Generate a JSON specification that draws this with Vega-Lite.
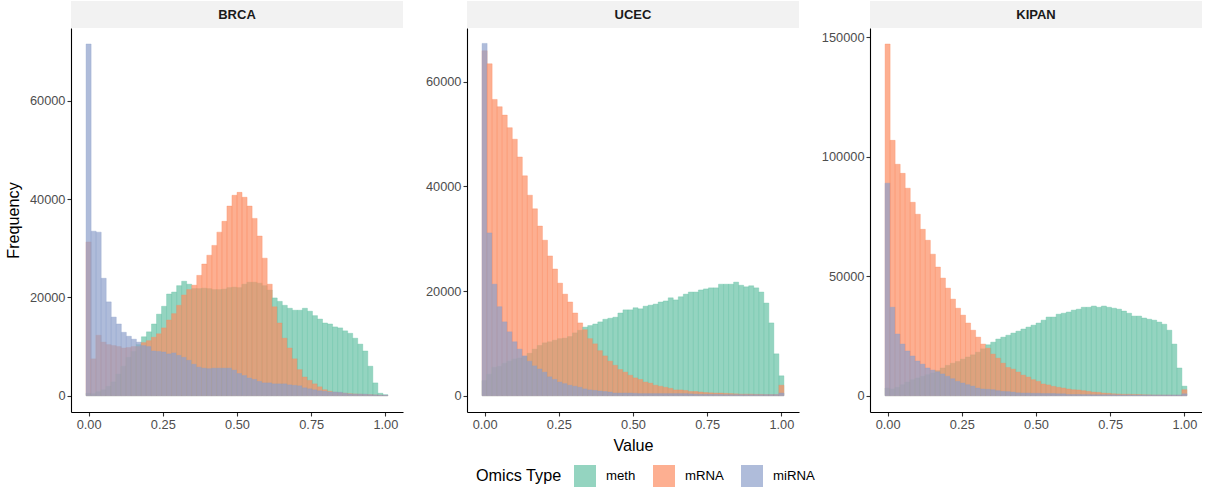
{
  "$schema": "https://vega.github.io/schema/vega-lite/v6.json",
  "background": "white",
  "padding": {"left": 5, "top": 1, "right": 0, "bottom": 0},
  "spacing": 22,
  "datasets": {
    "hist": [
      {"p":"BRCA","x":0,"meth":500,"mRNA":31300,"miRNA":71600},
      {"p":"BRCA","x":0.0169,"meth":400,"mRNA":7500,"miRNA":33500},
      {"p":"BRCA","x":0.0339,"meth":800,"mRNA":12300,"miRNA":33300},
      {"p":"BRCA","x":0.0508,"meth":1200,"mRNA":10900,"miRNA":23900},
      {"p":"BRCA","x":0.0678,"meth":1900,"mRNA":10400,"miRNA":19100},
      {"p":"BRCA","x":0.0847,"meth":2800,"mRNA":10200,"miRNA":16000},
      {"p":"BRCA","x":0.1017,"meth":4400,"mRNA":10000,"miRNA":14600},
      {"p":"BRCA","x":0.1186,"meth":6000,"mRNA":9700,"miRNA":12900},
      {"p":"BRCA","x":0.1356,"meth":7800,"mRNA":9800,"miRNA":12100},
      {"p":"BRCA","x":0.1525,"meth":9000,"mRNA":10000,"miRNA":11500},
      {"p":"BRCA","x":0.1695,"meth":10400,"mRNA":10000,"miRNA":10900},
      {"p":"BRCA","x":0.1864,"meth":12000,"mRNA":10800,"miRNA":10200},
      {"p":"BRCA","x":0.2034,"meth":13000,"mRNA":11200,"miRNA":10000},
      {"p":"BRCA","x":0.2203,"meth":14600,"mRNA":11900,"miRNA":9100},
      {"p":"BRCA","x":0.2373,"meth":16600,"mRNA":12600,"miRNA":9000},
      {"p":"BRCA","x":0.2542,"meth":18200,"mRNA":13800,"miRNA":8900},
      {"p":"BRCA","x":0.2712,"meth":20700,"mRNA":15400,"miRNA":8500},
      {"p":"BRCA","x":0.2881,"meth":21100,"mRNA":16700,"miRNA":8700},
      {"p":"BRCA","x":0.3051,"meth":22400,"mRNA":18400,"miRNA":8200},
      {"p":"BRCA","x":0.322,"meth":23300,"mRNA":20500,"miRNA":7800},
      {"p":"BRCA","x":0.339,"meth":22700,"mRNA":21600,"miRNA":7200},
      {"p":"BRCA","x":0.3559,"meth":21800,"mRNA":22500,"miRNA":6400},
      {"p":"BRCA","x":0.3729,"meth":21800,"mRNA":24500,"miRNA":5800},
      {"p":"BRCA","x":0.3898,"meth":21900,"mRNA":26800,"miRNA":5600},
      {"p":"BRCA","x":0.4068,"meth":21800,"mRNA":28600,"miRNA":5500},
      {"p":"BRCA","x":0.4237,"meth":21600,"mRNA":30600,"miRNA":5600},
      {"p":"BRCA","x":0.4407,"meth":21600,"mRNA":33300,"miRNA":5600},
      {"p":"BRCA","x":0.4576,"meth":21700,"mRNA":35500,"miRNA":5600},
      {"p":"BRCA","x":0.4746,"meth":22000,"mRNA":38600,"miRNA":5600},
      {"p":"BRCA","x":0.4915,"meth":22100,"mRNA":40800,"miRNA":5200},
      {"p":"BRCA","x":0.5085,"meth":22000,"mRNA":41400,"miRNA":4500},
      {"p":"BRCA","x":0.5254,"meth":22700,"mRNA":40400,"miRNA":4100},
      {"p":"BRCA","x":0.5424,"meth":23100,"mRNA":38600,"miRNA":3600},
      {"p":"BRCA","x":0.5593,"meth":23100,"mRNA":36100,"miRNA":3300},
      {"p":"BRCA","x":0.5763,"meth":22900,"mRNA":32500,"miRNA":2900},
      {"p":"BRCA","x":0.5932,"meth":22400,"mRNA":28000,"miRNA":2600},
      {"p":"BRCA","x":0.6102,"meth":21500,"mRNA":22700,"miRNA":2600},
      {"p":"BRCA","x":0.6271,"meth":19900,"mRNA":18100,"miRNA":2400},
      {"p":"BRCA","x":0.6441,"meth":19200,"mRNA":14800,"miRNA":2400},
      {"p":"BRCA","x":0.661,"meth":18400,"mRNA":11700,"miRNA":2400},
      {"p":"BRCA","x":0.678,"meth":17800,"mRNA":9700,"miRNA":2200},
      {"p":"BRCA","x":0.6949,"meth":17400,"mRNA":7500,"miRNA":2100},
      {"p":"BRCA","x":0.7119,"meth":17400,"mRNA":5300,"miRNA":2000},
      {"p":"BRCA","x":0.7288,"meth":17800,"mRNA":3800,"miRNA":1600},
      {"p":"BRCA","x":0.7458,"meth":17200,"mRNA":3100,"miRNA":1400},
      {"p":"BRCA","x":0.7627,"meth":16300,"mRNA":2400,"miRNA":1200},
      {"p":"BRCA","x":0.7797,"meth":15600,"mRNA":1800,"miRNA":1000},
      {"p":"BRCA","x":0.7966,"meth":14800,"mRNA":1200,"miRNA":900},
      {"p":"BRCA","x":0.8136,"meth":14600,"mRNA":900,"miRNA":750},
      {"p":"BRCA","x":0.8305,"meth":14000,"mRNA":700,"miRNA":750},
      {"p":"BRCA","x":0.8475,"meth":13800,"mRNA":600,"miRNA":700},
      {"p":"BRCA","x":0.8644,"meth":13200,"mRNA":500,"miRNA":500},
      {"p":"BRCA","x":0.8814,"meth":12700,"mRNA":400,"miRNA":350},
      {"p":"BRCA","x":0.8983,"meth":11700,"mRNA":350,"miRNA":300},
      {"p":"BRCA","x":0.9153,"meth":10500,"mRNA":300,"miRNA":300},
      {"p":"BRCA","x":0.9322,"meth":9100,"mRNA":250,"miRNA":300},
      {"p":"BRCA","x":0.9492,"meth":6000,"mRNA":200,"miRNA":200},
      {"p":"BRCA","x":0.9661,"meth":2600,"mRNA":150,"miRNA":150},
      {"p":"BRCA","x":0.9831,"meth":500,"mRNA":100,"miRNA":100},
      {"p":"BRCA","x":1,"meth":200,"mRNA":50,"miRNA":100},

      {"p":"UCEC","x":0,"meth":2900,"mRNA":65900,"miRNA":67300},
      {"p":"UCEC","x":0.0169,"meth":4100,"mRNA":63400,"miRNA":31100},
      {"p":"UCEC","x":0.0339,"meth":5400,"mRNA":56600,"miRNA":21300},
      {"p":"UCEC","x":0.0508,"meth":5600,"mRNA":55200,"miRNA":17000},
      {"p":"UCEC","x":0.0678,"meth":6200,"mRNA":53600,"miRNA":14100},
      {"p":"UCEC","x":0.0847,"meth":6600,"mRNA":51200,"miRNA":12200},
      {"p":"UCEC","x":0.1017,"meth":7000,"mRNA":49000,"miRNA":10300},
      {"p":"UCEC","x":0.1186,"meth":7200,"mRNA":45600,"miRNA":8900},
      {"p":"UCEC","x":0.1356,"meth":7500,"mRNA":42000,"miRNA":7600},
      {"p":"UCEC","x":0.1525,"meth":8100,"mRNA":38300,"miRNA":6600},
      {"p":"UCEC","x":0.1695,"meth":8900,"mRNA":35700,"miRNA":5700},
      {"p":"UCEC","x":0.1864,"meth":9600,"mRNA":32400,"miRNA":5100},
      {"p":"UCEC","x":0.2034,"meth":10100,"mRNA":29700,"miRNA":4500},
      {"p":"UCEC","x":0.2203,"meth":10300,"mRNA":26700,"miRNA":3600},
      {"p":"UCEC","x":0.2373,"meth":10600,"mRNA":24200,"miRNA":3100},
      {"p":"UCEC","x":0.2542,"meth":10900,"mRNA":21500,"miRNA":2600},
      {"p":"UCEC","x":0.2712,"meth":11000,"mRNA":19400,"miRNA":2300},
      {"p":"UCEC","x":0.2881,"meth":11300,"mRNA":17900,"miRNA":2000},
      {"p":"UCEC","x":0.3051,"meth":12000,"mRNA":15800,"miRNA":1800},
      {"p":"UCEC","x":0.322,"meth":12500,"mRNA":13900,"miRNA":1600},
      {"p":"UCEC","x":0.339,"meth":13100,"mRNA":12600,"miRNA":1300},
      {"p":"UCEC","x":0.3559,"meth":13400,"mRNA":10900,"miRNA":1100},
      {"p":"UCEC","x":0.3729,"meth":13700,"mRNA":9900,"miRNA":1000},
      {"p":"UCEC","x":0.3898,"meth":14100,"mRNA":8600,"miRNA":900},
      {"p":"UCEC","x":0.4068,"meth":14600,"mRNA":7600,"miRNA":800},
      {"p":"UCEC","x":0.4237,"meth":14800,"mRNA":6600,"miRNA":700},
      {"p":"UCEC","x":0.4407,"meth":15000,"mRNA":5800,"miRNA":500},
      {"p":"UCEC","x":0.4576,"meth":15800,"mRNA":5000,"miRNA":500},
      {"p":"UCEC","x":0.4746,"meth":16400,"mRNA":4500,"miRNA":500},
      {"p":"UCEC","x":0.4915,"meth":16400,"mRNA":3900,"miRNA":500},
      {"p":"UCEC","x":0.5085,"meth":16800,"mRNA":3400,"miRNA":450},
      {"p":"UCEC","x":0.5254,"meth":16600,"mRNA":3100,"miRNA":400},
      {"p":"UCEC","x":0.5424,"meth":17100,"mRNA":2600,"miRNA":400},
      {"p":"UCEC","x":0.5593,"meth":17300,"mRNA":2400,"miRNA":400},
      {"p":"UCEC","x":0.5763,"meth":17500,"mRNA":2000,"miRNA":400},
      {"p":"UCEC","x":0.5932,"meth":17900,"mRNA":1800,"miRNA":400},
      {"p":"UCEC","x":0.6102,"meth":18100,"mRNA":1600,"miRNA":400},
      {"p":"UCEC","x":0.6271,"meth":18700,"mRNA":1400,"miRNA":400},
      {"p":"UCEC","x":0.6441,"meth":18300,"mRNA":1100,"miRNA":400},
      {"p":"UCEC","x":0.661,"meth":18900,"mRNA":1100,"miRNA":400},
      {"p":"UCEC","x":0.678,"meth":19400,"mRNA":1000,"miRNA":400},
      {"p":"UCEC","x":0.6949,"meth":19800,"mRNA":800,"miRNA":350},
      {"p":"UCEC","x":0.7119,"meth":19800,"mRNA":800,"miRNA":300},
      {"p":"UCEC","x":0.7288,"meth":20200,"mRNA":700,"miRNA":250},
      {"p":"UCEC","x":0.7458,"meth":20400,"mRNA":600,"miRNA":250},
      {"p":"UCEC","x":0.7627,"meth":20600,"mRNA":550,"miRNA":250},
      {"p":"UCEC","x":0.7797,"meth":20600,"mRNA":500,"miRNA":250},
      {"p":"UCEC","x":0.7966,"meth":21300,"mRNA":500,"miRNA":250},
      {"p":"UCEC","x":0.8136,"meth":21300,"mRNA":450,"miRNA":200},
      {"p":"UCEC","x":0.8305,"meth":21300,"mRNA":400,"miRNA":200},
      {"p":"UCEC","x":0.8475,"meth":21700,"mRNA":350,"miRNA":200},
      {"p":"UCEC","x":0.8644,"meth":21100,"mRNA":300,"miRNA":200},
      {"p":"UCEC","x":0.8814,"meth":20800,"mRNA":300,"miRNA":200},
      {"p":"UCEC","x":0.8983,"meth":21000,"mRNA":300,"miRNA":200},
      {"p":"UCEC","x":0.9153,"meth":20600,"mRNA":250,"miRNA":200},
      {"p":"UCEC","x":0.9322,"meth":19800,"mRNA":250,"miRNA":200},
      {"p":"UCEC","x":0.9492,"meth":17700,"mRNA":200,"miRNA":200},
      {"p":"UCEC","x":0.9661,"meth":13900,"mRNA":200,"miRNA":200},
      {"p":"UCEC","x":0.9831,"meth":8000,"mRNA":200,"miRNA":200},
      {"p":"UCEC","x":1,"meth":3800,"mRNA":2000,"miRNA":500},

      {"p":"KIPAN","x":0,"meth":3200,"mRNA":147100,"miRNA":88900},
      {"p":"KIPAN","x":0.0169,"meth":2800,"mRNA":106800,"miRNA":37000},
      {"p":"KIPAN","x":0.0339,"meth":3500,"mRNA":96800,"miRNA":25800},
      {"p":"KIPAN","x":0.0508,"meth":4600,"mRNA":93000,"miRNA":21600},
      {"p":"KIPAN","x":0.0678,"meth":5700,"mRNA":86800,"miRNA":18700},
      {"p":"KIPAN","x":0.0847,"meth":6700,"mRNA":80900,"miRNA":16600},
      {"p":"KIPAN","x":0.1017,"meth":7400,"mRNA":75900,"miRNA":14500},
      {"p":"KIPAN","x":0.1186,"meth":8100,"mRNA":69600,"miRNA":13200},
      {"p":"KIPAN","x":0.1356,"meth":8800,"mRNA":65000,"miRNA":11600},
      {"p":"KIPAN","x":0.1525,"meth":9500,"mRNA":59200,"miRNA":10700},
      {"p":"KIPAN","x":0.1695,"meth":10500,"mRNA":53800,"miRNA":10000},
      {"p":"KIPAN","x":0.1864,"meth":11600,"mRNA":49200,"miRNA":9100},
      {"p":"KIPAN","x":0.2034,"meth":12700,"mRNA":45000,"miRNA":8100},
      {"p":"KIPAN","x":0.2203,"meth":13600,"mRNA":40400,"miRNA":7100},
      {"p":"KIPAN","x":0.2373,"meth":14300,"mRNA":36600,"miRNA":6000},
      {"p":"KIPAN","x":0.2542,"meth":15300,"mRNA":33700,"miRNA":5300},
      {"p":"KIPAN","x":0.2712,"meth":16200,"mRNA":30400,"miRNA":4600},
      {"p":"KIPAN","x":0.2881,"meth":17100,"mRNA":27400,"miRNA":4000},
      {"p":"KIPAN","x":0.3051,"meth":18200,"mRNA":24500,"miRNA":3200},
      {"p":"KIPAN","x":0.322,"meth":19600,"mRNA":21600,"miRNA":2800},
      {"p":"KIPAN","x":0.339,"meth":21300,"mRNA":19900,"miRNA":2700},
      {"p":"KIPAN","x":0.3559,"meth":22400,"mRNA":17400,"miRNA":2500},
      {"p":"KIPAN","x":0.3729,"meth":23700,"mRNA":15700,"miRNA":2100},
      {"p":"KIPAN","x":0.3898,"meth":24500,"mRNA":13600,"miRNA":1800},
      {"p":"KIPAN","x":0.4068,"meth":25300,"mRNA":11800,"miRNA":1700},
      {"p":"KIPAN","x":0.4237,"meth":26200,"mRNA":11100,"miRNA":1500},
      {"p":"KIPAN","x":0.4407,"meth":27000,"mRNA":9900,"miRNA":1200},
      {"p":"KIPAN","x":0.4576,"meth":27900,"mRNA":8600,"miRNA":1100},
      {"p":"KIPAN","x":0.4746,"meth":28700,"mRNA":7800,"miRNA":1100},
      {"p":"KIPAN","x":0.4915,"meth":29500,"mRNA":6700,"miRNA":1000},
      {"p":"KIPAN","x":0.5085,"meth":30400,"mRNA":6000,"miRNA":1000},
      {"p":"KIPAN","x":0.5254,"meth":31600,"mRNA":4900,"miRNA":900},
      {"p":"KIPAN","x":0.5424,"meth":32900,"mRNA":4500,"miRNA":900},
      {"p":"KIPAN","x":0.5593,"meth":32900,"mRNA":3900,"miRNA":900},
      {"p":"KIPAN","x":0.5763,"meth":34100,"mRNA":3500,"miRNA":800},
      {"p":"KIPAN","x":0.5932,"meth":34500,"mRNA":3200,"miRNA":800},
      {"p":"KIPAN","x":0.6102,"meth":35000,"mRNA":2800,"miRNA":500},
      {"p":"KIPAN","x":0.6271,"meth":35800,"mRNA":2500,"miRNA":500},
      {"p":"KIPAN","x":0.6441,"meth":36200,"mRNA":2400,"miRNA":500},
      {"p":"KIPAN","x":0.661,"meth":37000,"mRNA":2100,"miRNA":450},
      {"p":"KIPAN","x":0.678,"meth":37000,"mRNA":1800,"miRNA":450},
      {"p":"KIPAN","x":0.6949,"meth":37500,"mRNA":1500,"miRNA":400},
      {"p":"KIPAN","x":0.7119,"meth":37000,"mRNA":1400,"miRNA":400},
      {"p":"KIPAN","x":0.7288,"meth":37500,"mRNA":1100,"miRNA":400},
      {"p":"KIPAN","x":0.7458,"meth":37000,"mRNA":1000,"miRNA":400},
      {"p":"KIPAN","x":0.7627,"meth":36600,"mRNA":800,"miRNA":400},
      {"p":"KIPAN","x":0.7797,"meth":36200,"mRNA":700,"miRNA":350},
      {"p":"KIPAN","x":0.7966,"meth":35400,"mRNA":600,"miRNA":350},
      {"p":"KIPAN","x":0.8136,"meth":34500,"mRNA":600,"miRNA":350},
      {"p":"KIPAN","x":0.8305,"meth":33300,"mRNA":550,"miRNA":300},
      {"p":"KIPAN","x":0.8475,"meth":33300,"mRNA":500,"miRNA":300},
      {"p":"KIPAN","x":0.8644,"meth":32500,"mRNA":400,"miRNA":300},
      {"p":"KIPAN","x":0.8814,"meth":32000,"mRNA":350,"miRNA":300},
      {"p":"KIPAN","x":0.8983,"meth":31600,"mRNA":300,"miRNA":300},
      {"p":"KIPAN","x":0.9153,"meth":30800,"mRNA":300,"miRNA":300},
      {"p":"KIPAN","x":0.9322,"meth":29900,"mRNA":250,"miRNA":300},
      {"p":"KIPAN","x":0.9492,"meth":27400,"mRNA":250,"miRNA":300},
      {"p":"KIPAN","x":0.9661,"meth":21600,"mRNA":200,"miRNA":300},
      {"p":"KIPAN","x":0.9831,"meth":11600,"mRNA":200,"miRNA":300},
      {"p":"KIPAN","x":1,"meth":4000,"mRNA":2500,"miRNA":800}
    ]
  },
  "resolve": {"scale": {"color": "shared", "stroke": "shared"}},
  "hconcat": [
    {
      "spacing": 0,
      "vconcat": [
        {
          "width": 332, "height": 27,
          "view": {"fill": "#F2F2F2", "stroke": null},
          "data": {"values": [{"label": "BRCA"}]},
          "mark": {"type": "text", "font": "Liberation Sans", "fontWeight": "bold", "fontSize": 13, "color": "#1A1A1A", "baseline": "middle"},
          "encoding": {"text": {"field": "label"}}
        },
        {
          "width": 332, "height": 384,
          "data": {"name": "hist"},
          "transform": [
            {"filter": "datum.p === 'BRCA'"},
            {"fold": ["meth", "mRNA", "miRNA"], "as": ["type", "count"]},
            {"calculate": "datum.x - 0.5/59", "as": "lo"},
            {"calculate": "datum.x + 0.5/59", "as": "hi"}
          ],
          "mark": {"type": "bar", "fillOpacity": 0.7, "strokeOpacity": 0.7, "strokeWidth": 0.5},
          "encoding": {
            "x": {"field": "lo", "type": "quantitative", "scale": {"domain": [-0.0593, 1.0593], "nice": false, "zero": false}, "axis": {"values": [0, 0.25, 0.5, 0.75, 1], "format": ".2f", "title": null}},
            "x2": {"field": "hi"},
            "y": {"field": "count", "type": "quantitative", "scale": {"domain": [-3320, 74860], "nice": false, "zero": false}, "axis": {"values": [0, 20000, 40000, 60000], "format": "d", "title": "Frequency", "titlePadding": 8}},
            "y2": {"datum": 0},
            "color": {"field": "type", "type": "nominal", "scale": {"domain": ["meth", "mRNA", "miRNA"], "range": ["#66C2A5", "#FC8D62", "#8DA0CB"]}, "legend": {"title": "Omics Type", "orient": "none", "legendX": 405, "legendY": 464, "direction": "horizontal", "titleOrient": "left"}},
            "stroke": {"field": "type", "type": "nominal", "scale": {"domain": ["meth", "mRNA", "miRNA"], "range": ["#66C2A5", "#FC8D62", "#8DA0CB"]}, "legend": null}
          }
        }
      ]
    },
    {
      "spacing": 0,
      "vconcat": [
        {
          "width": 332, "height": 27,
          "view": {"fill": "#F2F2F2", "stroke": null},
          "data": {"values": [{"label": "UCEC"}]},
          "mark": {"type": "text", "font": "Liberation Sans", "fontWeight": "bold", "fontSize": 13, "color": "#1A1A1A", "baseline": "middle"},
          "encoding": {"text": {"field": "label"}}
        },
        {
          "width": 332, "height": 384,
          "data": {"name": "hist"},
          "transform": [
            {"filter": "datum.p === 'UCEC'"},
            {"fold": ["meth", "mRNA", "miRNA"], "as": ["type", "count"]},
            {"calculate": "datum.x - 0.5/59", "as": "lo"},
            {"calculate": "datum.x + 0.5/59", "as": "hi"}
          ],
          "mark": {"type": "bar", "fillOpacity": 0.7, "strokeOpacity": 0.7, "strokeWidth": 0.5},
          "encoding": {
            "x": {"field": "lo", "type": "quantitative", "scale": {"domain": [-0.0593, 1.0593], "nice": false, "zero": false}, "axis": {"values": [0, 0.25, 0.5, 0.75, 1], "format": ".2f", "title": "Value", "titlePadding": 7}},
            "x2": {"field": "hi"},
            "y": {"field": "count", "type": "quantitative", "scale": {"domain": [-3110, 70240], "nice": false, "zero": false}, "axis": {"values": [0, 20000, 40000, 60000], "format": "d", "title": null}},
            "y2": {"datum": 0},
            "color": {"field": "type", "type": "nominal", "scale": {"domain": ["meth", "mRNA", "miRNA"], "range": ["#66C2A5", "#FC8D62", "#8DA0CB"]}, "legend": {"title": "Omics Type", "orient": "none", "legendX": 405, "legendY": 464, "direction": "horizontal", "titleOrient": "left"}},
            "stroke": {"field": "type", "type": "nominal", "scale": {"domain": ["meth", "mRNA", "miRNA"], "range": ["#66C2A5", "#FC8D62", "#8DA0CB"]}, "legend": null}
          }
        }
      ]
    },
    {
      "spacing": 0,
      "vconcat": [
        {
          "width": 332, "height": 27,
          "view": {"fill": "#F2F2F2", "stroke": null},
          "data": {"values": [{"label": "KIPAN"}]},
          "mark": {"type": "text", "font": "Liberation Sans", "fontWeight": "bold", "fontSize": 13, "color": "#1A1A1A", "baseline": "middle"},
          "encoding": {"text": {"field": "label"}}
        },
        {
          "width": 332, "height": 384,
          "data": {"name": "hist"},
          "transform": [
            {"filter": "datum.p === 'KIPAN'"},
            {"fold": ["meth", "mRNA", "miRNA"], "as": ["type", "count"]},
            {"calculate": "datum.x - 0.5/59", "as": "lo"},
            {"calculate": "datum.x + 0.5/59", "as": "hi"}
          ],
          "mark": {"type": "bar", "fillOpacity": 0.7, "strokeOpacity": 0.7, "strokeWidth": 0.5},
          "encoding": {
            "x": {"field": "lo", "type": "quantitative", "scale": {"domain": [-0.0593, 1.0593], "nice": false, "zero": false}, "axis": {"values": [0, 0.25, 0.5, 0.75, 1], "format": ".2f", "title": null}},
            "x2": {"field": "hi"},
            "y": {"field": "count", "type": "quantitative", "scale": {"domain": [-6810, 153800], "nice": false, "zero": false}, "axis": {"values": [0, 50000, 100000, 150000], "format": "d", "title": null}},
            "y2": {"datum": 0},
            "color": {"field": "type", "type": "nominal", "scale": {"domain": ["meth", "mRNA", "miRNA"], "range": ["#66C2A5", "#FC8D62", "#8DA0CB"]}, "legend": {"title": "Omics Type", "orient": "none", "legendX": 405, "legendY": 464, "direction": "horizontal", "titleOrient": "left"}},
            "stroke": {"field": "type", "type": "nominal", "scale": {"domain": ["meth", "mRNA", "miRNA"], "range": ["#66C2A5", "#FC8D62", "#8DA0CB"]}, "legend": null}
          }
        }
      ]
    }
  ],
  "config": {
    "font": "Liberation Sans",
    "view": {"stroke": null},
    "axis": {
      "grid": false,
      "domainColor": "#000000",
      "domainWidth": 1.1,
      "tickColor": "#333333",
      "tickWidth": 1.1,
      "tickSize": 4,
      "labelPadding": 2,
      "labelColor": "#4D4D4D",
      "labelFont": "Liberation Sans",
      "labelFontSize": 12.8,
      "titleFont": "Liberation Sans",
      "titleFontSize": 16.2,
      "titleFontWeight": "normal",
      "titleColor": "#000000",
      "titlePadding": 3
    },
    "legend": {
      "symbolType": "square",
      "symbolSize": 484,
      "symbolStrokeWidth": 0,
      "symbolOpacity": 0.7,
      "labelFont": "Liberation Sans",
      "labelFontSize": 13.2,
      "labelColor": "#000000",
      "labelOffset": 10,
      "columnPadding": 17,
      "titleFont": "Liberation Sans",
      "titleFontSize": 16.2,
      "titleFontWeight": "normal",
      "titleColor": "#000000",
      "titlePadding": 12
    }
  }
}
